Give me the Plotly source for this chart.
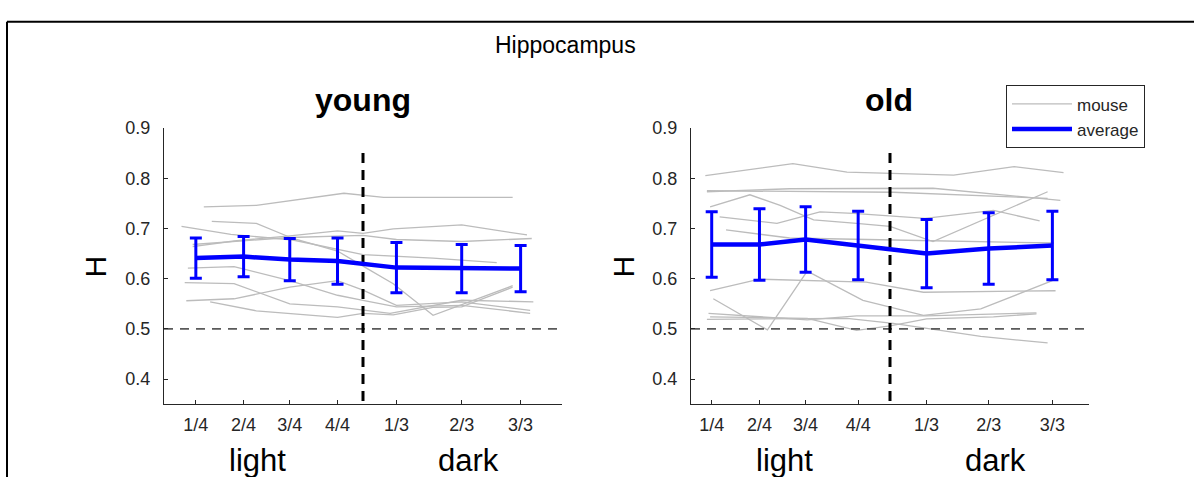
import plotly.graph_objects as go

# ---------------- data ----------------
bin_labels = ["1/4", "2/4", "3/4", "4/4", "1/3", "2/3", "3/3"]
young_x = [1.5, 4.5, 7.4, 10.4, 14.1, 18.2, 21.9]
old_x = [0.8, 3.8, 6.7, 10.0, 14.3, 18.2, 22.2]
boundary_x = 12.0
chance_level = 0.5

young_mean = [0.641, 0.644, 0.638, 0.635, 0.622, 0.620, 0.620]
young_err = [0.040, 0.040, 0.042, 0.046, 0.050, 0.048, 0.046]
old_mean = [0.668, 0.668, 0.678, 0.666, 0.650, 0.660, 0.666]
old_err = [0.065, 0.071, 0.065, 0.068, 0.068, 0.071, 0.068]

young_mouse_x = [
    [2.0, 5.3, 10.8, 13.3, 21.4],
    [2.5, 5.3, 7.6, 10.4, 12.0, 13.9, 16.4, 18.2, 21.4],
    [0.6, 3.7, 7.6, 10.4, 12.0, 16.4, 20.4],
    [1.3, 3.9, 7.4, 10.4, 12.0, 13.9, 18.2, 22.3],
    [1.3, 4.5, 7.4, 12.0, 14.1, 18.2, 22.6],
    [1.0, 3.9, 7.4, 10.4, 12.0, 14.1, 18.2, 22.5],
    [0.8, 3.9, 7.4, 10.4, 13.7, 18.2, 22.7],
    [0.9, 3.9, 7.4, 10.4, 12.0, 14.1, 18.2, 22.5],
    [2.4, 5.3, 10.4, 12.0, 13.9, 16.4, 18.2, 21.4],
]
young_mouse_h = [
    [0.743, 0.746, 0.770, 0.762, 0.762],
    [0.714, 0.710, 0.680, 0.655, 0.625, 0.590, 0.527, 0.548, 0.586],
    [0.704, 0.688, 0.677, 0.658, 0.648, 0.641, 0.632],
    [0.664, 0.675, 0.685, 0.695, 0.690, 0.699, 0.707, 0.687],
    [0.668, 0.676, 0.682, 0.686, 0.678, 0.674, 0.680],
    [0.621, 0.624, 0.596, 0.567, 0.557, 0.544, 0.547, 0.531],
    [0.592, 0.590, 0.550, 0.544, 0.531, 0.557, 0.554],
    [0.556, 0.560, 0.583, 0.596, 0.577, 0.547, 0.554, 0.537],
    [0.554, 0.536, 0.523, 0.531, 0.528, 0.543, 0.544, 0.583],
]

old_mouse_x = [
    [0.4, 5.9, 9.3, 16.0, 19.8, 22.9],
    [0.5, 5.7, 14.7, 22.7],
    [0.5, 12.2, 21.9],
    [0.7, 3.2, 5.1, 7.2, 9.9, 12.0, 14.7, 21.9],
    [1.3, 4.9, 7.6, 9.7, 14.2, 18.5, 21.4],
    [1.7, 5.7, 12.2, 22.3],
    [0.7, 3.8, 10.5, 14.1, 22.4],
    [0.9, 4.3, 6.8, 10.3, 14.1, 17.7, 22.2],
    [0.6, 6.8, 9.9, 14.3, 21.2],
    [0.5, 9.3, 12.2, 17.7, 21.9],
    [0.7, 6.8, 9.9, 12.0, 14.3, 18.5, 21.2],
]
old_mouse_h = [
    [0.805, 0.829, 0.812, 0.806, 0.823, 0.811],
    [0.773, 0.779, 0.780, 0.756],
    [0.775, 0.772, 0.760],
    [0.743, 0.767, 0.746, 0.717, 0.710, 0.704, 0.674, 0.773],
    [0.723, 0.710, 0.733, 0.730, 0.720, 0.736, 0.715],
    [0.697, 0.681, 0.677, 0.671],
    [0.576, 0.599, 0.593, 0.573, 0.576],
    [0.560, 0.498, 0.615, 0.557, 0.527, 0.540, 0.596],
    [0.531, 0.518, 0.526, 0.526, 0.532],
    [0.519, 0.521, 0.511, 0.485, 0.472],
    [0.524, 0.521, 0.497, 0.506, 0.520, 0.524, 0.530],
]

y_ticks = [0.4, 0.5, 0.6, 0.7, 0.8, 0.9]
x_range = [-0.5, 24.5]
y_range = [0.35, 0.9]
vline_top = 0.85

# ---------------- style ----------------
W, H = 1194, 477
FONT = "Liberation Sans, Arial, Helvetica, sans-serif"
AX = "#262626"
GRAY = "#bcbcbc"
BLUE = "#0000ff"

fig = go.Figure()

panels = [
    ("x", "y", young_x, young_mean, young_err, young_mouse_x, young_mouse_h),
    ("x2", "y2", old_x, old_mean, old_err, old_mouse_x, old_mouse_h),
]

first_mouse = True
for xa, ya, bx, mean, err, mx, mh in panels:
    for xs, hs in zip(mx, mh):
        fig.add_trace(go.Scatter(
            x=xs, y=hs, xaxis=xa, yaxis=ya, mode="lines",
            line=dict(color=GRAY, width=1.3),
            name="mouse", legendgroup="mouse", showlegend=first_mouse,
            hoverinfo="skip"))
        first_mouse = False
    # chance level (dashed gray)
    fig.add_trace(go.Scatter(
        x=x_range, y=[chance_level, chance_level], xaxis=xa, yaxis=ya,
        mode="lines", line=dict(color="#5a5a5a", width=1.8, dash="9px,7px"),
        showlegend=False, hoverinfo="skip"))
    # light/dark boundary (dashed black), drawn from the top down
    fig.add_trace(go.Scatter(
        x=[boundary_x, boundary_x], y=[vline_top, y_range[0]], xaxis=xa, yaxis=ya,
        mode="lines", line=dict(color="#000000", width=3, dash="10px,7px"),
        showlegend=False, hoverinfo="skip"))

for i, (xa, ya, bx, mean, err, mx, mh) in enumerate(panels):
    fig.add_trace(go.Scatter(
        x=bx, y=mean, xaxis=xa, yaxis=ya, mode="lines",
        line=dict(color=BLUE, width=4.5),
        error_y=dict(type="data", array=err, visible=True,
                     color=BLUE, thickness=3, width=6),
        name="average", showlegend=(i == 1), hoverinfo="skip"))

# ---------------- axes ----------------
y_dom = [1 - 402.7 / H, 1 - 120.5 / H]
x_doms = [[164 / W, 562 / W], [691 / W, 1089 / W]]

common_x = dict(range=x_range, showgrid=False, zeroline=False, showline=True,
                linecolor=AX, linewidth=1, ticks="inside", ticklen=4,
                tickcolor=AX, tickwidth=1, ticklabelstandoff=4,
                tickfont=dict(family=FONT, size=18, color=AX))
common_y = dict(range=y_range, showgrid=False, zeroline=False, showline=True,
                linecolor=AX, linewidth=1, ticks="inside", ticklen=4,
                tickcolor=AX, tickwidth=1, tickvals=y_ticks,
                ticktext=[f"{v:.1f}" for v in y_ticks], ticklabelstandoff=9,
                tickfont=dict(family=FONT, size=18, color=AX), domain=y_dom)

fig.update_layout(
    xaxis=dict(common_x, domain=x_doms[0], anchor="y",
               tickvals=young_x, ticktext=bin_labels),
    xaxis2=dict(common_x, domain=x_doms[1], anchor="y2",
                tickvals=old_x, ticktext=bin_labels),
    yaxis=dict(common_y, anchor="x"),
    yaxis2=dict(common_y, anchor="x2"),
)

# ---------------- text ----------------
def px_x(p):
    return p / W

def px_y(p):
    return 1 - p / H

annotations = [
    dict(text="Hippocampus", x=px_x(565), y=px_y(36), size=23),
    dict(text="<b>young</b>", x=px_x(363), y=px_y(92), size=32),
    dict(text="<b>old</b>", x=px_x(889), y=px_y(92), size=32),
    dict(text="light", x=px_x(257), y=px_y(460), size=31),
    dict(text="dark", x=px_x(468), y=px_y(460), size=31),
    dict(text="light", x=px_x(784), y=px_y(460), size=31),
    dict(text="dark", x=px_x(995), y=px_y(460), size=31),
]
ann = []
for a in annotations:
    ann.append(dict(text=a["text"], x=a["x"], y=a["y"], xref="paper", yref="paper",
                    xanchor="center", yanchor="middle", showarrow=False,
                    font=dict(family=FONT, size=a["size"], color="#000000")))
for xc in (96, 624):
    ann.append(dict(text="H", x=px_x(xc), y=px_y(262), xref="paper", yref="paper",
                    xanchor="center", yanchor="middle", showarrow=False,
                    textangle=-90, font=dict(family=FONT, size=30, color="#000000")))

fig.update_layout(
    width=W, height=H,
    margin=dict(l=0, r=0, t=0, b=0),
    paper_bgcolor="white", plot_bgcolor="white",
    annotations=ann,
    showlegend=True,
    legend=dict(x=px_x(1006), y=px_y(77), xanchor="left", yanchor="top",
                bordercolor=AX, borderwidth=1, bgcolor="white",
                font=dict(family=FONT, size=17, color=AX),
                itemwidth=60, tracegroupgap=0,
                itemclick=False, itemdoubleclick=False),
    shapes=[
        dict(type="line", xref="paper", yref="paper", x0=px_x(7), x1=1.0,
             y0=px_y(12), y1=px_y(12), line=dict(color="black", width=2)),
        dict(type="line", xref="paper", yref="paper", x0=px_x(7), x1=px_x(7),
             y0=px_y(12), y1=0.0, line=dict(color="black", width=2)),
    ],
)

fig.write_html("out.html", config={"displayModeBar": False})
